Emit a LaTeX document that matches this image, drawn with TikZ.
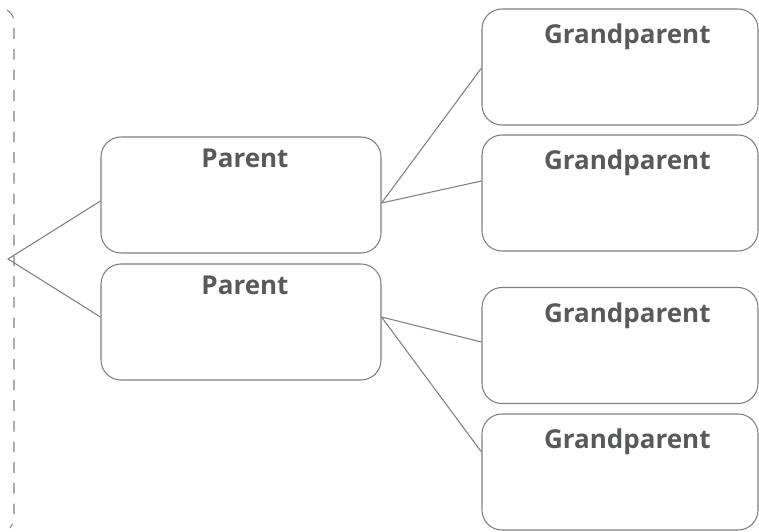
\documentclass[tikz,border=0pt]{standalone}
\usepackage{fontspec}
\setsansfont{Open Sans}
\usepackage{tikz}
\usetikzlibrary{positioning}
\definecolor{linegray}{HTML}{808080}
\definecolor{textgray}{HTML}{58595B}
\tikzset{
  person/.style={draw=linegray, line width=0.8pt, rounded corners=15pt, inner sep=0pt},
  parentbox/.style={person, minimum width=210pt, minimum height=87pt},
  grandbox/.style={person, minimum width=207pt, minimum height=87pt},
  persontext/.style={anchor=north, text=textgray, font=\sffamily\bfseries\fontsize{19.5}{22}\selectfont, inner sep=0pt},
  link/.style={draw=linegray, line width=0.8pt}
}

\begin{document}
\begin{tikzpicture}[x=0.75pt, y=-0.75pt]
        \useasboundingbox (0,0) rectangle (759,531);

        % bracket on the left
        \draw [linegray, line width=0.8pt, dash pattern=on 8pt off 7.5pt]
              (7,10) .. controls (11,13) and (14,16) .. (14,22) -- (14,515)
              .. controls (14,520) and (13,524) .. (10,528);
        \coordinate (root) at (8,259);

        % parents
        \node [parentbox, label={[persontext, xshift=3pt, yshift=-9.5pt]north:Parent}] (p1) at (241,195) {};
        \node [parentbox, label={[persontext, xshift=3pt, yshift=-9.5pt]north:Parent}] (p2) at (241,322) {};

        % grandparents
        \node [grandbox, label={[persontext, xshift=5.5pt, yshift=-11.5pt]north:Grandparent}] (g1) at (620,67) {};
        \node [grandbox, label={[persontext, xshift=5.5pt, yshift=-11.5pt]north:Grandparent}] (g2) at (620,193) {};
        \node [grandbox, label={[persontext, xshift=5.5pt, yshift=-11.5pt]north:Grandparent}] (g3) at (620,345.5) {};
        \node [grandbox, label={[persontext, xshift=5.5pt, yshift=-11.5pt]north:Grandparent}] (g4) at (620,472) {};

        \draw [link] ([yshift=-4.5pt]p1.west) -- (root) -- ([yshift=3.75pt]p2.west);
        \draw [link] ([yshift=-0.75pt]g1.west) -- ([yshift=-6pt]p1.east) -- ([yshift=9pt]g2.west);
        \draw [link] ([yshift=2.6pt]g3.west) -- ([yshift=3.75pt]p2.east) -- ([yshift=15pt]g4.west);
\end{tikzpicture}
\end{document}
